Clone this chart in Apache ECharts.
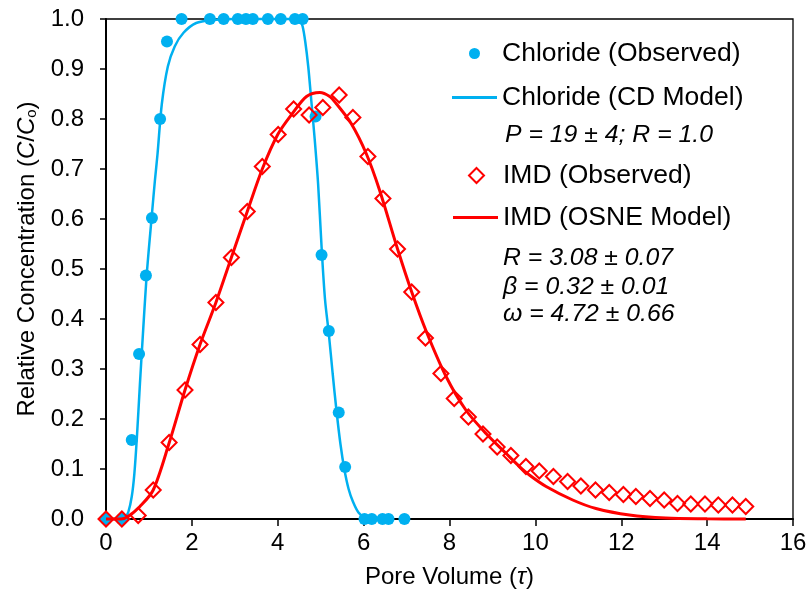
<!DOCTYPE html>
<html>
<head>
<meta charset="utf-8">
<script src="https://cdn.jsdelivr.net/npm/echarts@6/dist/echarts.min.js"></script>
<style>html,body{margin:0;padding:0;background:#fff}#c{width:810px;height:599px}</style>
</head>
<body>
<div id="c"></div>
<script>
// ---- data ----
var xTicks = [0, 2, 4, 6, 8, 10, 12, 14, 16];
var yTicks = [0.0, 0.1, 0.2, 0.3, 0.4, 0.5, 0.6, 0.7, 0.8, 0.9, 1.0];

var chlorideObsX = [0, 0.37, 0.6, 0.77, 0.93, 1.07, 1.26, 1.42, 1.76, 2.42, 2.74, 3.07, 3.26, 3.42, 3.77, 4.07, 4.40, 4.58, 4.88, 5.02, 5.19, 5.42, 5.57, 6.02, 6.19, 6.44, 6.58, 6.95];
var chlorideObsY = [0, 0, 0.158, 0.33, 0.487, 0.602, 0.80, 0.955, 1.0, 1.0, 1.0, 1.0, 1.0, 1.0, 1.0, 1.0, 1.0, 1.0, 0.805, 0.528, 0.376, 0.213, 0.104, 0, 0, 0, 0, 0];

var chlorideModelX = [0, 0.35, 0.45, 0.52, 0.6, 0.66, 0.72, 0.79, 0.86, 0.95, 1.07, 1.14, 1.2, 1.3, 1.44, 1.6, 1.8, 2.1, 2.5, 3.0, 4.0, 4.45, 4.52, 4.58, 4.64, 4.71, 4.78, 4.86, 4.94, 5.02, 5.1, 5.19, 5.28, 5.37, 5.46, 5.55, 5.65, 5.75, 5.88, 6.02, 6.2];
var chlorideModelY = [0, 0, 0.004, 0.014, 0.045, 0.09, 0.164, 0.27, 0.37, 0.49, 0.61, 0.678, 0.73, 0.83, 0.905, 0.945, 0.972, 0.992, 0.998, 1, 1, 1, 0.998, 0.985, 0.955, 0.905, 0.838, 0.76, 0.67, 0.545, 0.44, 0.37, 0.29, 0.215, 0.15, 0.1, 0.06, 0.035, 0.013, 0.003, 0];

var imdObsX = [0, 0.37, 0.75, 1.1, 1.47, 1.84, 2.19, 2.56, 2.92, 3.29, 3.64, 4.01, 4.37, 4.73, 5.05, 5.43, 5.75, 6.1, 6.45, 6.79, 7.12, 7.44, 7.8, 8.11, 8.44, 8.78, 9.11, 9.43, 9.78, 10.09, 10.42, 10.75, 11.06, 11.4, 11.72, 12.05, 12.34, 12.67, 13.0, 13.31, 13.62, 13.95, 14.26, 14.59, 14.9];
var imdObsY = [0, 0, 0.007, 0.058, 0.153, 0.258, 0.349, 0.433, 0.523, 0.615, 0.705, 0.769, 0.82, 0.808, 0.823, 0.848, 0.803, 0.725, 0.641, 0.54, 0.454, 0.362, 0.291, 0.241, 0.204, 0.17, 0.144, 0.127, 0.105, 0.096, 0.085, 0.075, 0.066, 0.058, 0.053, 0.049, 0.045, 0.041, 0.038, 0.031, 0.03, 0.03, 0.028, 0.028, 0.025];

var imdModelX = [0, 0.35, 0.51, 0.79, 1.1, 1.47, 1.84, 2.19, 2.56, 2.92, 3.29, 3.64, 4.0, 4.35, 4.67, 4.98, 5.21, 5.36, 5.71, 6.06, 6.37, 6.79, 7.12, 7.46, 7.92, 8.38, 8.85, 9.32, 9.63, 9.86, 10.25, 10.87, 11.41, 12.19, 13.04, 14.0, 14.9];
var imdModelY = [0, 0, 0.005, 0.025, 0.058, 0.152, 0.258, 0.349, 0.433, 0.523, 0.615, 0.70, 0.769, 0.812, 0.845, 0.853, 0.845, 0.831, 0.791, 0.731, 0.658, 0.54, 0.454, 0.375, 0.285, 0.218, 0.171, 0.131, 0.105, 0.088, 0.065, 0.038, 0.021, 0.008, 0.002, 0.0005, 0];

var seriesNames = ['Chloride (Observed)', 'Chloride (CD Model)', 'IMD (Observed)', 'IMD (OSNE Model)'];
var paramTexts = ['P = 19 \u00b1 4; R = 1.0', 'R = 3.08 \u00b1 0.07', '\u03b2 = 0.32 \u00b1 0.01', '\u03c9 = 4.72 \u00b1 0.66'];

// ---- chart ----
function zip(xs, ys) { return xs.map(function (x, i) { return [x, ys[i]]; }); }
var BLUE = '#00B0F0', RED = '#FF0000';
var FONT = '"Liberation Sans", Arial, sans-serif';

var chart = echarts.init(document.getElementById('c'), null, { renderer: 'canvas' });

function legendFor(name, icon, left, top, w, h, spacer) {
  return {
    data: [{ name: name, icon: icon }], left: left, top: top, padding: 0, itemWidth: w, itemHeight: h,
    selectedMode: false,
    formatter: function (n) { return '{g|}{t|' + n + '}'; },
    textStyle: { color: '#000', rich: {
      g: { width: spacer, fontSize: 26.5, fontFamily: FONT },
      t: { fontFamily: FONT, fontSize: 26.5, color: '#000' }
    } }
  };
}

var PFONT = 'italic 24.8px ' + FONT;

var option = {
  animation: false,
  backgroundColor: '#fff',
  grid: { left: 106, right: 17, top: 19, bottom: 80, show: true, borderColor: '#000', borderWidth: 1.3, backgroundColor: 'transparent' },
  xAxis: {
    type: 'value', min: xTicks[0], max: xTicks[xTicks.length - 1], interval: 2,
    name: '{a|Pore Volume (}{i|\u03c4}{a|)}', nameLocation: 'middle', nameGap: 46,
    nameTextStyle: { rich: { a: { fontFamily: FONT, fontSize: 24, color: '#000' }, i: { fontFamily: FONT, fontSize: 24, fontStyle: 'italic', color: '#000' } } },
    axisLine: { lineStyle: { color: '#000', width: 2 } },
    axisTick: { show: true, inside: false, length: 7, lineStyle: { color: '#000', width: 1.5 } },
    axisLabel: { fontFamily: FONT, fontSize: 24, color: '#000', margin: 12 },
    splitLine: { show: false }
  },
  yAxis: {
    type: 'value', min: yTicks[0], max: yTicks[yTicks.length - 1], interval: 0.1,
    name: '{a|Relative Concentration (}{i|C}{a|/}{i|C}{s|o}{a|)}', nameLocation: 'middle', nameGap: 62,
    nameTextStyle: { padding: [0, 0, 0, 20], rich: {
      a: { fontFamily: FONT, fontSize: 24, color: '#000' },
      i: { fontFamily: FONT, fontSize: 24, fontStyle: 'italic', color: '#000' },
      s: { fontFamily: FONT, fontSize: 15, color: '#000', padding: [10, 0, 0, 0] }
    } },
    axisLine: { lineStyle: { color: '#000', width: 2 } },
    axisTick: { show: true, inside: false, length: 6, lineStyle: { color: '#000', width: 1.5 } },
    axisLabel: { fontFamily: FONT, fontSize: 24, color: '#000', margin: 22, formatter: function (v) { return v.toFixed(1); } },
    splitLine: { show: false }
  },
  legend: [
    legendFor(seriesNames[0], 'circle', 469, 40, 11, 11, 17),
    legendFor(seriesNames[1], 'rect', 452, 84, 45, 3, 0),
    legendFor(seriesNames[2], 'diamond', 468, 162, 15, 15, 14),
    legendFor(seriesNames[3], 'rect', 453, 204, 45, 3, 0)
  ],
  graphic: [
    { type: 'text', left: 505, top: 123, style: { text: paramTexts[0], font: PFONT, fill: '#000' } },
    { type: 'text', left: 503, top: 246, style: { text: paramTexts[1], font: PFONT, fill: '#000' } },
    { type: 'text', left: 503, top: 275, style: { text: paramTexts[2], font: PFONT, fill: '#000' } },
    { type: 'text', left: 503, top: 302, style: { text: paramTexts[3], font: PFONT, fill: '#000' } }
  ],
  series: [
    { name: seriesNames[0], type: 'scatter', data: zip(chlorideObsX, chlorideObsY), symbol: 'circle', symbolSize: 12, clip: false,
      itemStyle: { color: BLUE, opacity: 1 }, z: 2 },
    { name: seriesNames[1], type: 'line', data: zip(chlorideModelX, chlorideModelY), showSymbol: false, symbol: 'none', smooth: 0.3, clip: false,
      lineStyle: { color: BLUE, width: 2.5 }, itemStyle: { color: BLUE }, z: 3 },
    { name: seriesNames[2], type: 'scatter', data: zip(imdObsX, imdObsY), symbol: 'diamond', symbolSize: 15, clip: false,
      itemStyle: { color: 'rgba(255,255,255,0)', borderColor: RED, borderWidth: 2, opacity: 1 }, z: 4 },
    { name: seriesNames[3], type: 'line', data: zip(imdModelX, imdModelY), showSymbol: false, symbol: 'none', smooth: 0.3, clip: false,
      lineStyle: { color: RED, width: 3 }, itemStyle: { color: RED }, z: 5 }
  ]
};
chart.setOption(option);
</script>
</body>
</html>
